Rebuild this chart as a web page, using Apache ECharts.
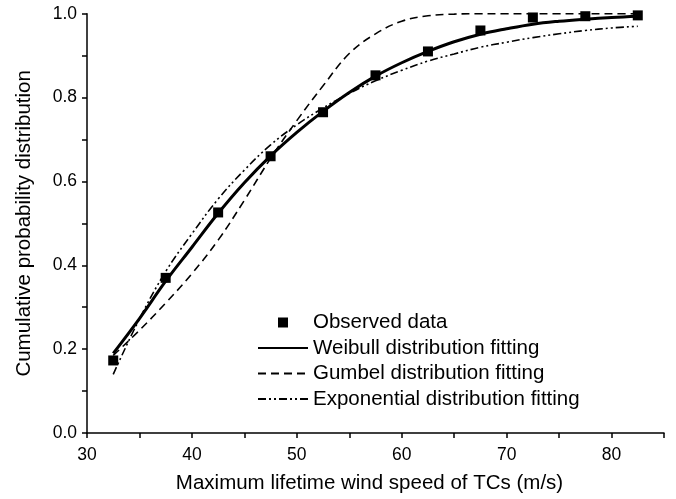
<!DOCTYPE html>
<html><head><meta charset="utf-8">
<script src="https://cdn.jsdelivr.net/npm/echarts@6/dist/echarts.min.js"></script>
<style>html,body{margin:0;padding:0;background:#fff}#c{width:676px;height:499px}</style>
</head><body><div id="c"></div><script>
// ---- data ----
const observedX = [32.5, 37.5, 42.5, 47.5, 52.5, 57.5, 62.5, 67.5, 72.5, 77.5, 82.5];
const observedY = [0.173, 0.370, 0.526, 0.660, 0.765, 0.853, 0.910, 0.960, 0.991, 0.994, 0.996];

const fitX = [32.5, 35, 37.5, 40, 42.5, 45, 47.5, 50, 52.5, 55, 57.5, 60, 62.5, 65, 67.5, 70, 72.5, 75, 77.5, 80, 82.5];
const weibullY = [0.190, 0.273, 0.362, 0.443, 0.524, 0.597, 0.661, 0.717, 0.767, 0.812, 0.851, 0.883, 0.910, 0.933, 0.951, 0.964, 0.975, 0.982, 0.987, 0.991, 0.994];
const gumbelY = [0.185, 0.245, 0.310, 0.380, 0.460, 0.555, 0.655, 0.745, 0.828, 0.905, 0.952, 0.982, 0.995, 0.999, 1.0, 1.0, 1.0, 1.0, 1.0, 1.0, 1.0];
const exponentialY = [0.140, 0.272, 0.385, 0.475, 0.558, 0.627, 0.687, 0.735, 0.775, 0.810, 0.840, 0.865, 0.887, 0.904, 0.920, 0.932, 0.943, 0.952, 0.960, 0.966, 0.970];

const seriesNames = ['Observed data', 'Weibull distribution fitting', 'Gumbel distribution fitting', 'Exponential distribution fitting'];
const xAxisTitle = 'Maximum lifetime wind speed of TCs (m/s)';
const yAxisTitle = 'Cumulative probability distribution';

// ---- chart ----
const FONT = '"Liberation Sans", Arial, Helvetica, sans-serif';
const pair = (xs, ys) => xs.map((x, i) => [x, ys[i]]);
const chart = echarts.init(document.getElementById('c'), null, { renderer: 'canvas' });

const axisCommon = {
  type: 'value',
  nameLocation: 'middle',
  axisLine: { show: true, lineStyle: { color: '#000', width: 1.5 } },
  axisTick: { show: true, inside: false, length: 5, lineStyle: { color: '#000', width: 1.5 } },
  splitLine: { show: false }
};

chart.setOption({
  animation: false,
  backgroundColor: '#fff',
  textStyle: { fontFamily: FONT, color: '#000' },
  grid: { left: 87, right: 12, top: 13.7, bottom: 63.3 },
  xAxis: Object.assign({}, axisCommon, {
    min: 30, max: 85, interval: 5,
    name: xAxisTitle, nameGap: 40,
    nameTextStyle: { fontSize: 20.5, color: '#000', fontFamily: FONT, padding: [0, 12, 0, 0] },
    axisLabel: { fontSize: 17.5, color: '#000', fontFamily: FONT, margin: 13,
      formatter: v => (Math.round(v) % 10 === 0 && v < 85) ? String(Math.round(v)) : '' }
  }),
  yAxis: Object.assign({}, axisCommon, {
    min: 0, max: 1, interval: 0.1,
    name: yAxisTitle, nameGap: 52,
    nameTextStyle: { fontSize: 20.5, color: '#000', fontFamily: FONT },
    axisLabel: { fontSize: 17.5, color: '#000', fontFamily: FONT, margin: 10,
      formatter: v => (Math.round(v * 10) % 2 === 0) ? v.toFixed(1) : '' }
  }),
  legend: {
    orient: 'vertical', left: 252, top: 307, padding: 5,
    itemWidth: 50, itemHeight: 12.5, itemGap: 4.5,
    textStyle: { fontSize: 20.5, color: '#000', fontFamily: FONT, lineHeight: 20 },
    data: [
      { name: seriesNames[0] },
      { name: seriesNames[1], itemStyle: { opacity: 0 } },
      { name: seriesNames[2], itemStyle: { opacity: 0 } },
      { name: seriesNames[3], itemStyle: { opacity: 0 } }
    ]
  },
  series: [
    { name: seriesNames[1], type: 'line', data: pair(fitX, weibullY), symbol: 'none', smooth: 0.4,
      lineStyle: { color: '#000', width: 3 }, itemStyle: { color: '#000' }, z: 3 },
    { name: seriesNames[2], type: 'line', data: pair(fitX, gumbelY), symbol: 'none', smooth: 0.4,
      lineStyle: { color: '#000', width: 1.6, type: [8, 5] }, itemStyle: { color: '#000' }, z: 2 },
    { name: seriesNames[3], type: 'line', data: pair(fitX, exponentialY), symbol: 'none', smooth: 0.4,
      lineStyle: { color: '#000', width: 1.6, type: [8, 3, 2, 3, 2, 3] }, itemStyle: { color: '#000' }, z: 2 },
    { name: seriesNames[0], type: 'line', data: pair(observedX, observedY), symbol: 'rect', symbolSize: 10,
      showSymbol: true, lineStyle: { width: 0, opacity: 0 }, itemStyle: { color: '#000' }, z: 5 }
  ]
});
</script></body></html>
